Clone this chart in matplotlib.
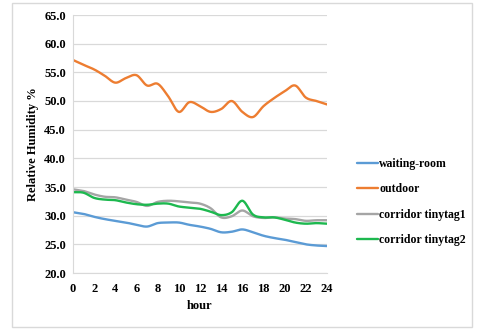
import numpy as np
import matplotlib
matplotlib.use("Agg")
import matplotlib.pyplot as plt
from matplotlib.patches import Rectangle

hours = list(range(25))
waiting_room = [30.6, 30.3, 29.8, 29.4, 29.1, 28.8, 28.4, 28.1, 28.7, 28.8, 28.8, 28.4, 28.1,
                27.7, 27.1, 27.2, 27.6, 27.1, 26.5, 26.1, 25.8, 25.4, 25.0, 24.8, 24.7]
outdoor = [57.15, 56.3, 55.5, 54.4, 53.2, 54.0, 54.5, 52.7, 53.0, 50.8, 48.1, 49.8, 49.1,
           48.1, 48.6, 50.0, 48.1, 47.2, 49.1, 50.5, 51.7, 52.7, 50.6, 50.0, 49.4]
tinytag1 = [34.6, 34.3, 33.7, 33.3, 33.2, 32.8, 32.4, 31.7, 32.4, 32.6, 32.5, 32.3, 32.1,
            31.3, 29.7, 29.9, 30.9, 29.9, 29.6, 29.7, 29.5, 29.4, 29.1, 29.2, 29.2]
tinytag2 = [34.1, 34.0, 33.1, 32.8, 32.7, 32.3, 32.0, 31.9, 32.1, 32.1, 31.6, 31.4, 31.2,
            30.7, 30.1, 30.6, 32.6, 30.2, 29.7, 29.7, 29.3, 28.8, 28.6, 28.7, 28.6]
series_names = ["waiting-room", "outdoor", "corridor tinytag1", "corridor tinytag2"]
colors = ["#5B9BD5", "#ED7D31", "#A5A5A5", "#1DB84F"]
yticks = [20, 25, 30, 35, 40, 45, 50, 55, 60, 65]
xticks = list(range(0, 25, 2))


def smooth(x, y, n=20):
    # Catmull-Rom style smoothing (Excel "smoothed line")
    x = np.asarray(x, float); y = np.asarray(y, float)
    px = np.concatenate([[2 * x[0] - x[1]], x, [2 * x[-1] - x[-2]]])
    py = np.concatenate([[2 * y[0] - y[1]], y, [2 * y[-1] - y[-2]]])
    xs, ys = [], []
    t = np.linspace(0, 1, n, endpoint=False)
    for i in range(1, len(px) - 2):
        for arr, out in ((px, xs), (py, ys)):
            p0, p1, p2, p3 = arr[i - 1], arr[i], arr[i + 1], arr[i + 2]
            out.extend(0.5 * ((2 * p1) + (-p0 + p2) * t + (2 * p0 - 5 * p1 + 4 * p2 - p3) * t ** 2
                              + (-p0 + 3 * p1 - 3 * p2 + p3) * t ** 3))
    xs.append(x[-1]); ys.append(y[-1])
    return np.array(xs), np.array(ys)


plt.rcParams['font.family'] = ['Liberation Serif', 'DejaVu Serif']
plt.rcParams['font.weight'] = 'bold'

fig = plt.figure(figsize=(4.8, 3.33), dpi=100)
fig.patches.append(Rectangle((12 / 480, 1 - 327 / 333), 460 / 480, 324 / 333,
                             transform=fig.transFigure, fill=False, edgecolor="#d9d9d9", lw=1))
ax = fig.add_axes([73 / 480, 1 - 273 / 333, 254 / 480, 258 / 333])

for data, name, c in zip([waiting_room, outdoor, tinytag1, tinytag2], series_names, colors):
    sx, sy = smooth(hours, data)
    ax.plot(sx, sy, color=c, lw=1.7, label=name, solid_capstyle='round')

ax.set_xlim(0, 24)
ax.set_ylim(20, 65)
ax.set_xticks(xticks)
ax.set_yticks(yticks)
ax.set_yticklabels([f"{v:.1f}" for v in yticks])
ax.tick_params(length=0, labelsize=9)
ax.tick_params(axis='x', pad=7)
ax.tick_params(axis='y', pad=5)
for lab in ax.get_xticklabels() + ax.get_yticklabels():
    lab.set_fontweight('bold')
ax.grid(axis='y', color="#d9d9d9", lw=0.9)
ax.set_axisbelow(True)
for s in ['top', 'right']:
    ax.spines[s].set_visible(False)
for s in ['left', 'bottom']:
    ax.spines[s].set_color("#d9d9d9")
ax.set_xlabel("hour", fontsize=9, fontweight='bold', labelpad=4)
ax.set_ylabel("Relative Humidity %", fontsize=9, fontweight='bold', labelpad=4)

leg = ax.legend(loc='upper left', bbox_to_anchor=(352 / 480, 1 - 153 / 333),
                bbox_transform=fig.transFigure, frameon=False, fontsize=8.5,
                handlelength=1.8, handletextpad=0.1, labelspacing=1.15, borderaxespad=0)
for t in leg.get_texts():
    t.set_fontweight('bold')

fig.savefig("out.png", dpi=100)
